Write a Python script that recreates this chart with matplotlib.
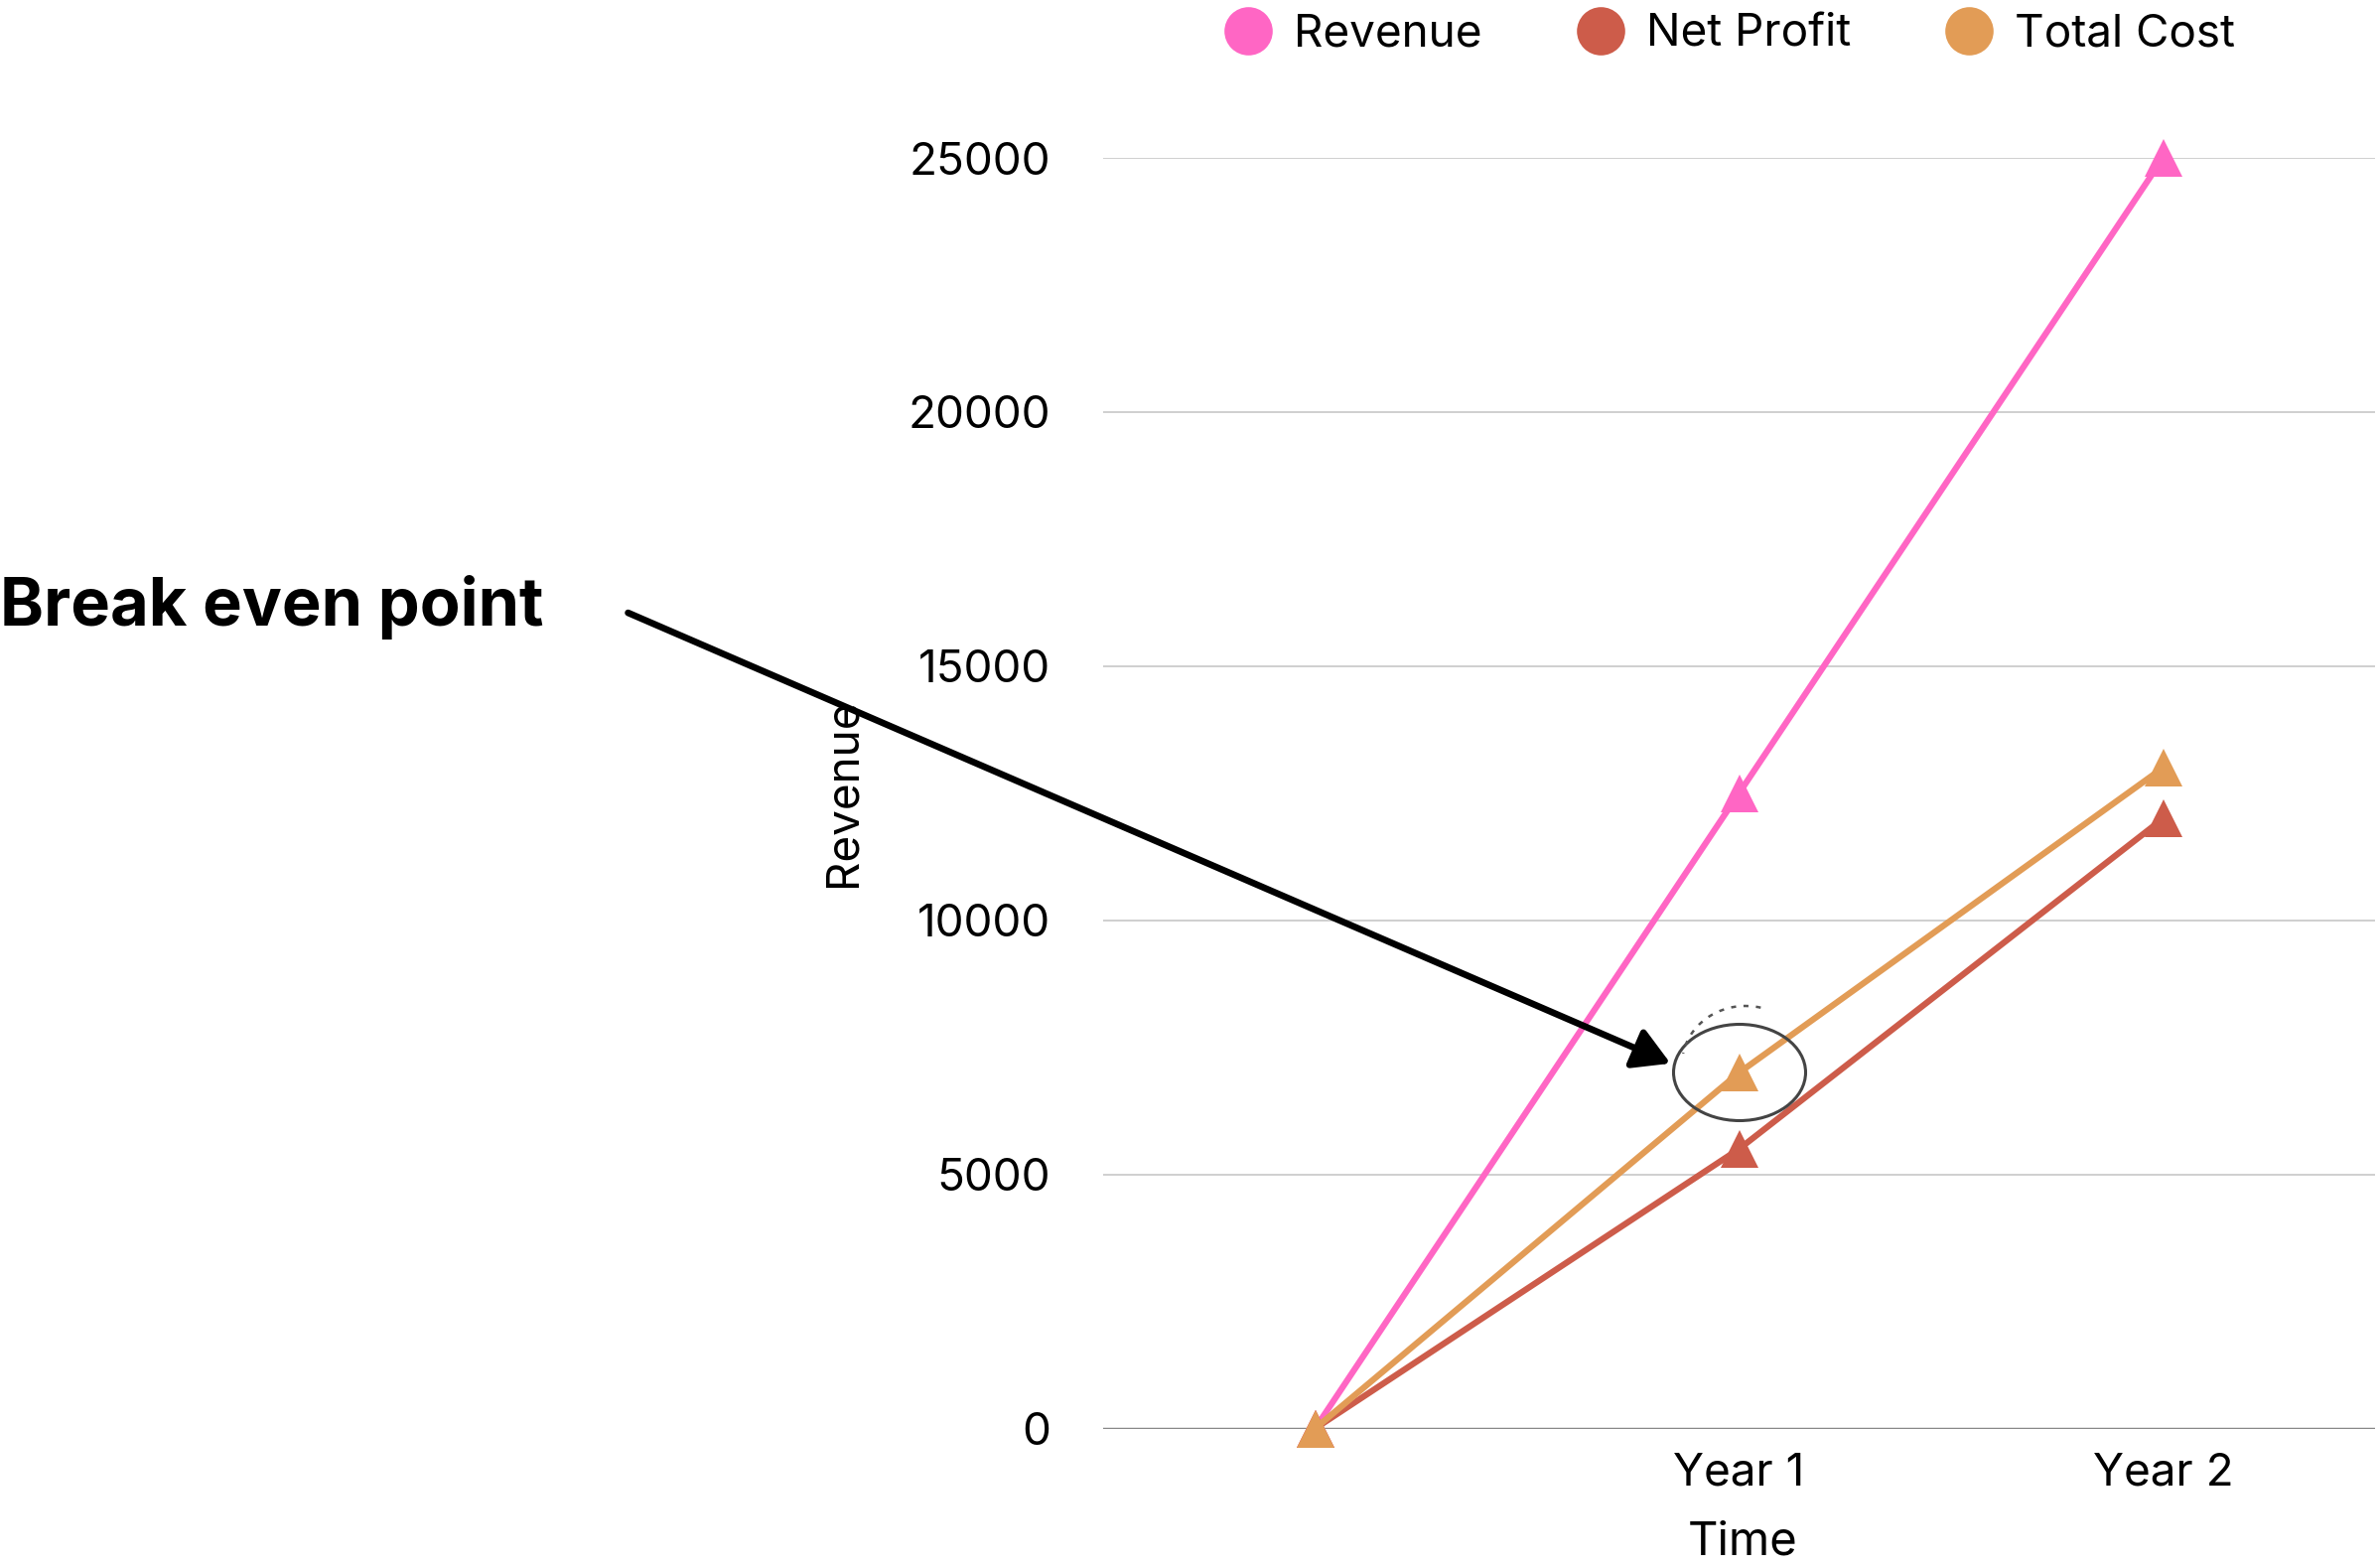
import matplotlib
matplotlib.use("Agg")
import matplotlib.pyplot as plt
from matplotlib.lines import Line2D
from matplotlib.patches import FancyArrowPatch, Ellipse, Arc

plt.rcParams['font.family'] = ['Inter', 'DejaVu Sans']

categories = ["", "Year 1", "Year 2"]
revenue = [0, 12500, 25000]
net_profit = [0, 5500, 12000]
total_cost = [0, 7000, 13000]
yticks = [0, 5000, 10000, 15000, 20000, 25000]

series = [("Revenue", revenue, "#FF66C4"),
          ("Net Profit", net_profit, "#CD5C4A"),
          ("Total Cost", total_cost, "#E29C56")]

W, H = 2397, 1579
fig = plt.figure(figsize=(W / 100, H / 100), dpi=100)
ax = fig.add_axes([1111 / W, 1 - 1438.5 / H, (2392 - 1111) / W, (1438.5 - 159) / H])

x = list(range(len(categories)))
for name, vals, col in series:
    ax.plot(x, vals, color=col, lw=4.5, marker='^', markersize=28,
            markeredgewidth=0, clip_on=False, zorder=3)

ax.set_xlim(-0.5, len(categories) - 0.5)
ax.set_ylim(0, 25000)
ax.set_yticks(yticks)
ax.set_yticklabels([str(v) for v in yticks])
ax.set_xticks(x)
ax.set_xticklabels(categories)
ax.tick_params(axis='y', length=0, pad=38, labelsize=33)
ax.tick_params(axis='x', length=0, pad=17, labelsize=33)
for s in ax.spines.values():
    s.set_visible(False)
ax.grid(axis='y', color='#cccccc', lw=1.3)
ax.grid(axis='x', visible=False)
ax.axhline(0, color='#888888', lw=2.5, zorder=2)
ax.set_axisbelow(True)

fig.text(850 / W, 1 - 798 / H, "Revenue", rotation=90, ha='center', va='center', fontsize=33)
fig.text(1755 / W, 1 - 1553 / H, "Time", ha='center', va='center', fontsize=34)

handles = [Line2D([], [], marker='o', ls='none', color=c, markersize=35, markeredgewidth=0)
           for _, _, c in series]
fig.legend(handles, [n for n, _, _ in series], loc='center', bbox_to_anchor=(0.727, 0.978),
           ncol=3, frameon=False, fontsize=33, handletextpad=0.5, columnspacing=2.1,
           handlelength=1.0)

fig.text(0.0, 1 - 612 / H, "Break even point", ha='left', va='center',
         fontsize=48, fontweight='bold')

arrow = FancyArrowPatch((630 / W, 1 - 616 / H), (1685 / W, 1 - 1072 / H),
                        transform=fig.transFigure, arrowstyle='-|>,head_length=1.3,head_width=0.75',
                        mutation_scale=17, lw=4.8, color='black', zorder=10)
fig.add_artist(arrow)

ell = Ellipse((1752 / W, 1 - 1080 / H), 133 / W, 97 / H, transform=fig.transFigure,
              fill=False, ec='#444444', lw=2.2, zorder=11)
fig.add_artist(ell)
arc = Arc((1758 / W, 1 - 1072 / H), 128 / W, 118 / H, theta1=80, theta2=165,
          transform=fig.transFigure, ec='#555555', lw=1.8, ls=(0, (2, 3)), zorder=11)
fig.add_artist(arc)

fig.savefig("out.png", dpi=100)
